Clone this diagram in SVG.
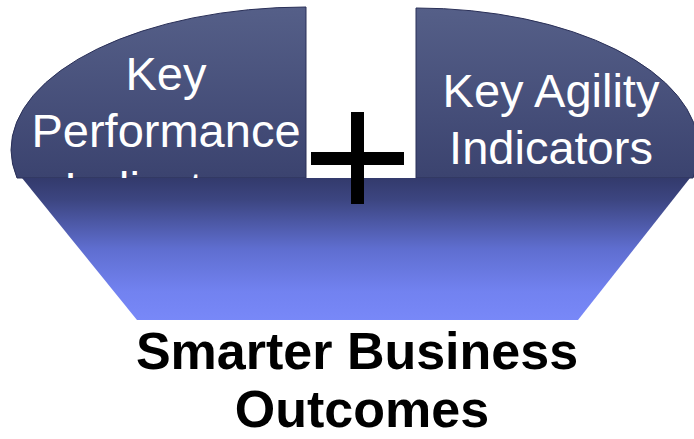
<svg xmlns="http://www.w3.org/2000/svg" width="694" height="439" viewBox="0 0 694 439">
<defs>
<linearGradient id="capG" x1="0" y1="0" x2="0" y2="1">
<stop offset="0" stop-color="#555f88"/>
<stop offset="1" stop-color="#3b436f"/>
</linearGradient>
<linearGradient id="baseG" x1="0" y1="0" x2="0" y2="1">
<stop offset="0" stop-color="#333a6c"/>
<stop offset="0.15" stop-color="#3c4580"/>
<stop offset="0.5" stop-color="#5f6ed0"/>
<stop offset="0.8" stop-color="#7282f0"/>
<stop offset="1" stop-color="#7888f8"/>
</linearGradient>
</defs>
<style>
.cap{fill:url(#capG);stroke:#2a3058;stroke-width:1}
.wt{font-family:"Liberation Sans",Arial,sans-serif;font-size:47px;fill:#ffffff;text-anchor:middle}
.bt{font-family:"Liberation Sans",Arial,sans-serif;font-size:52px;font-weight:bold;fill:#000000;text-anchor:middle}
</style>
<rect width="694" height="439" fill="#ffffff"/>
<g id="kpi">
<path class="cap" d="M306,7 A295,143 0 0 0 11,150 A295,143 0 0 0 17,178 L306,178 Z"/>
<text class="wt" x="166" y="90">Key</text>
<text class="wt" x="166" y="147">Performance</text>
<text class="wt" x="166" y="205">Indicators</text>
</g>
<g id="kai">
<path class="cap" d="M416,8 A283,142 0 0 1 699,150 A283,142 0 0 1 693,178 L416,178 Z"/>
<text class="wt" x="551" y="107">Key Agility</text>
<text class="wt" x="551" y="164">Indicators</text>
</g>
<g id="outcomes">
<path d="M22,178 L690,178 L578,320 L137,320 Z" fill="url(#baseG)"/>
<text class="bt" x="357" y="369">Smarter Business</text>
<text class="bt" x="362" y="427">Outcomes</text>
</g>
<g id="plus" fill="#000000">
<rect x="351" y="112" width="13" height="92"/>
<rect x="311" y="152" width="93" height="13"/>
</g>
</svg>
